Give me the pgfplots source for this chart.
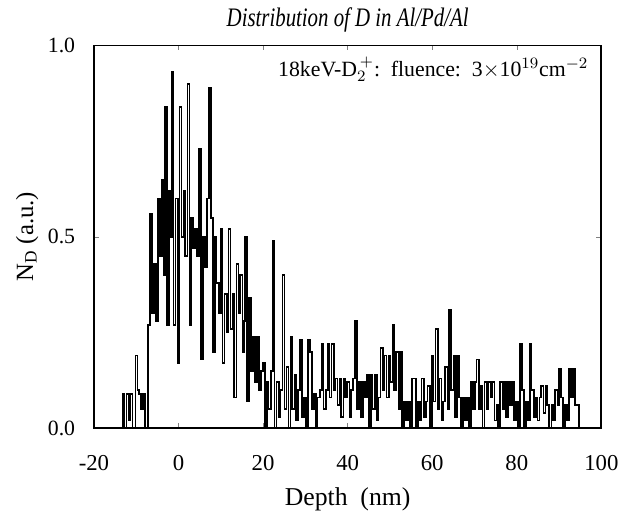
\documentclass[border=0pt]{standalone}
\usepackage{fontspec}
\setmainfont{Liberation Serif}
\newfontfamily\condit[FakeStretch=0.78]{Liberation Serif}
\usepackage{pgfplots}
\pgfplotsset{compat=1.18}
\begin{document}
\begin{tikzpicture}
\begin{axis}[
  scale only axis,
  width=256.5pt, height=193.5pt,
  xmin=-20, xmax=100, ymin=0, ymax=1.0,
  xtick={-20,0,20,40,60,80,100},
  ytick={0,0.5,1.0},
  yticklabel style={/pgf/number format/fixed,/pgf/number format/precision=1,/pgf/number format/fixed zerofill, font=\fontsize{11}{12}\selectfont, xshift=-6pt},
  xticklabel style={font=\fontsize{11.5}{12}\selectfont, yshift=-10pt},
  /pgf/number format/assume math mode=true,
  tick align=inside,
  major tick length=2.5pt,
  axis line style={line width=1pt},
  xlabel={Depth\enspace(nm)},
  ylabel={N$_{\mathrm{D}}$ (a.u.)},
  xlabel style={font=\fontsize{13}{14}\selectfont, yshift=-2pt},
  ylabel style={font=\fontsize{12.5}{14}\selectfont, yshift=-2pt},
  title={\condit\itshape Distribution of D in Al/Pd/Al},
  title style={font=\fontsize{13.5}{15}\selectfont, yshift=-3pt},
]
\addplot[const plot, black, line width=0.85pt] coordinates {
(-20,0) (-13.6,0) (-13.2,0.09) (-12.8,0.0) (-12.3,0.09) (-11.8,0.02) (-11.4,0.09) (-10.9,0.0)
(-10.2,0.19) (-9.7,0.10) (-9.3,0.09) (-8.8,0.05) (-8.4,0.09) (-7.9,0.0) (-7.4,0.0)
(-7.2,0.27) (-6.7,0.56) (-6.3,0.30) (-5.8,0.43) (-5.3,0.28) (-4.9,0.60) (-4.4,0.45) (-3.9,0.65)
(-3.5,0.40) (-3.2,0.84) (-2.8,0.27) (-2.3,0.62) (-1.9,0.50) (-1.6,0.93) (-1.2,0.27) (-0.7,0.60)
(-0.2,0.17) (0.2,0.84) (0.7,0.50) (1.2,0.62) (1.6,0.45) (2.1,0.90) (2.6,0.27) (3.0,0.55)
(3.5,0.47) (3.9,0.52) (4.4,0.45) (4.9,0.73) (5.3,0.18) (5.8,0.50) (6.3,0.42) (6.7,0.60)
(7.2,0.89) (7.7,0.55) (8.1,0.20) (8.6,0.50) (9.0,0.38) (9.5,0.30) (10.0,0.52) (10.4,0.17)
(10.9,0.35) (11.4,0.25) (11.8,0.52) (12.3,0.26) (12.8,0.35) (13.2,0.08) (13.7,0.43) (14.2,0.30)
(14.6,0.40) (15.1,0.20) (15.5,0.28) (15.8,0.50) (16.2,0.07) (16.7,0.34) (17.2,0.15) (17.6,0.24)
(18.1,0.12) (18.6,0.24) (19.0,0.10) (19.5,0.15) (20.0,0.17) (20.4,0.0) (20.9,0.12) (21.3,0.05)
(21.8,0.15) (22.3,0.49) (22.7,0.0) (23.2,0.12) (23.7,0.03) (24.1,0.10) (24.6,0.40) (25.1,0.05)
(25.5,0.16) (26.0,0.0) (26.5,0.24) (26.9,0.05) (27.4,0.14) (27.8,0.02) (28.3,0.10) (28.8,0.23)
(29.2,0.03) (29.7,0.08) (30.2,0.0) (30.6,0.23) (31.1,0.20) (31.6,0.05) (32.0,0.09) (32.5,0.0)
(32.9,0.08) (33.4,0.10) (33.9,0.22) (34.3,0.05) (34.8,0.10) (35.3,0.22) (35.7,0.08) (36.2,0.22)
(36.7,0.10) (37.1,0.13) (37.6,0.06) (38.1,0.13) (38.5,0.03) (39.0,0.13) (39.4,0.08) (39.9,0.12)
(40.4,0.03) (40.8,0.10) (41.3,0.13) (41.8,0.28) (42.2,0.05) (42.7,0.12) (43.2,0.03) (43.6,0.12)
(44.1,0.08) (44.5,0.14) (45.0,0.0) (45.5,0.14) (45.9,0.05) (46.4,0.14) (46.9,0.02) (47.3,0.08)
(47.8,0.21) (48.3,0.10) (48.7,0.19) (49.2,0.08) (49.7,0.19) (50.1,0.12) (50.6,0.27) (51.0,0.10)
(51.5,0.20) (52.0,0.05) (52.4,0.20) (52.9,0.0) (53.4,0.07) (53.8,0.02) (54.3,0.07) (54.8,0.0)
(55.2,0.13) (55.7,0.13) (56.1,0.0) (56.6,0.07) (57.1,0.02) (57.5,0.13) (58.0,0.03) (58.5,0.07)
(58.9,0.11) (59.4,0.0) (59.9,0.19) (60.3,0.07) (60.8,0.26) (61.3,0.05) (61.7,0.13) (62.2,0.02)
(62.6,0.07) (63.1,0.16) (63.6,0.05) (64.0,0.31) (64.5,0.10) (65.0,0.19) (65.4,0.03) (65.9,0.19)
(66.4,0.08) (66.8,0.0) (67.3,0.08) (67.7,0.02) (68.2,0.08) (68.7,0.0) (69.1,0.12) (69.6,0.05)
(70.1,0.12) (70.5,0.18) (71.0,0.05) (71.5,0.11) (71.9,0.0) (72.4,0.12) (72.9,0.05) (73.3,0.12)
(73.8,0.08) (74.2,0.12) (74.7,0.02) (75.2,0.06) (75.6,0.0) (76.1,0.12) (76.6,0.05) (77.0,0.12)
(77.5,0.03) (78.0,0.12) (78.4,0.06) (78.9,0.12) (79.3,0.02) (79.8,0.07) (80.3,0.0) (80.7,0.22)
(81.2,0.10) (81.7,0.0) (82.1,0.07) (82.6,0.02) (83.1,0.22) (83.5,0.10) (84.0,0.03) (84.5,0.08)
(84.9,0.02) (85.4,0.08) (85.8,0.11) (86.3,0.04) (86.8,0.11) (87.2,0.06) (87.7,0.0) (88.2,0.06)
(88.6,0.02) (89.1,0.10) (89.6,0.06) (90.0,0.155) (90.5,0.08) (91.0,0.0) (91.4,0.06) (91.9,0.02)
(92.3,0.155) (92.8,0.08) (93.3,0.155) (93.7,0.06) (94.2,0.06) (94.7,0.0) (100,0)
};
\node[anchor=north east, font=\fontsize{11}{12}\selectfont, inner sep=0pt] at (axis cs:97,0.97)
  {18keV-D$_2^{\,+}$:\ \ fluence:\ \ 3$\times$10$^{19}$cm$^{-2}$};
\end{axis}
\path ([xshift=-47.5pt,yshift=-37pt]current axis.south west) rectangle ([xshift=8.5pt,yshift=23pt]current axis.north east);
\end{tikzpicture}
\end{document}
